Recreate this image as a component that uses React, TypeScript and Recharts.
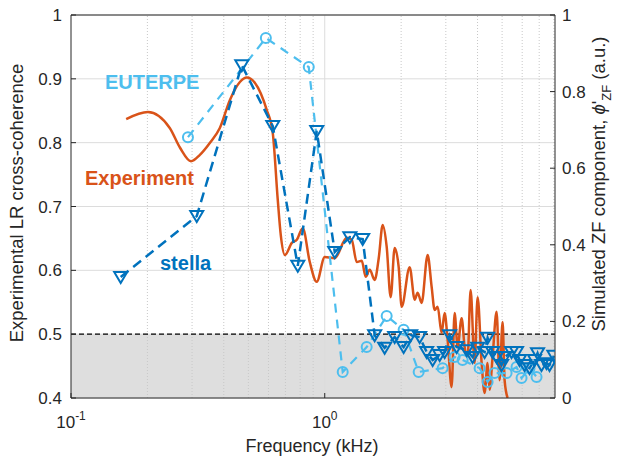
import {
  ComposedChart,
  Line,
  XAxis,
  YAxis,
  CartesianGrid,
  ReferenceLine,
  ReferenceArea,
} from "recharts";

// Experiment: LR cross-coherence (left axis) vs frequency (kHz)
const expFreq = [
  0.165, 0.201, 0.245, 0.269, 0.297, 0.322, 0.353, 0.386, 0.423, 0.463,
  0.493, 0.53, 0.591, 0.624, 0.653, 0.671, 0.696, 0.742, 0.776, 0.819,
  0.873, 0.93, 1.0, 1.095, 1.221, 1.277, 1.337, 1.399, 1.45, 1.504,
  1.573, 1.632, 1.692, 1.754, 1.819, 1.886, 1.956, 2.01, 2.161, 2.262,
  2.323, 2.409, 2.544, 2.638, 2.711, 2.786, 2.888, 2.968, 3.05, 3.162,
  3.25, 3.339, 3.463, 3.558, 3.656, 3.757, 3.896, 4.004, 4.152, 4.266,
  4.383, 4.463, 4.586, 4.756, 4.887, 5.022, 5.114, 5.255,
];
const expCoh = [
  0.837, 0.848, 0.823, 0.792, 0.771, 0.781, 0.8, 0.823, 0.867, 0.895,
  0.902, 0.894, 0.851, 0.815, 0.71, 0.655, 0.624, 0.643, 0.648, 0.666,
  0.613, 0.582, 0.621, 0.619, 0.651, 0.648, 0.613, 0.615, 0.59, 0.601,
  0.585, 0.619, 0.671, 0.637, 0.558, 0.635, 0.605, 0.543, 0.605, 0.554,
  0.565, 0.549, 0.624, 0.574, 0.538, 0.543, 0.502, 0.533, 0.491, 0.417,
  0.533, 0.48, 0.525, 0.48, 0.464, 0.569, 0.455, 0.558, 0.455, 0.408,
  0.455, 0.413, 0.464, 0.535, 0.428, 0.519, 0.428, 0.4,
];

// stella: simulated ZF component (right axis)
const stellaFreq = [
  0.157, 0.313, 0.471, 0.624, 0.783, 0.93, 1.095, 1.256, 1.411, 1.573,
  1.722, 1.886, 2.046, 2.181, 2.366, 2.521, 2.662, 2.837, 2.968, 3.105,
  3.309, 3.623, 3.826, 4.004, 4.266, 4.383, 4.586, 4.756, 4.977, 5.114,
  5.447, 5.699, 5.856, 6.128, 6.413, 6.711, 6.896, 7.148, 7.482, 7.687, 8.0,
];
const stellaZF = [
  0.316, 0.475, 0.869, 0.71, 0.345, 0.697, 0.381, 0.42, 0.415, 0.164,
  0.131, 0.159, 0.133, 0.164, 0.159, 0.12, 0.099, 0.112, 0.12, 0.164,
  0.133, 0.125, 0.107, 0.131, 0.12, 0.157, 0.12, 0.107, 0.086, 0.107,
  0.12, 0.12, 0.099, 0.086, 0.078, 0.099, 0.117, 0.086, 0.091, 0.086, 0.11,
];

// EUTERPE: simulated ZF component (right axis)
const euterpeFreq = [
  0.289, 0.586, 0.865, 1.177, 1.463, 1.754, 2.046, 2.345, 2.914, 3.25,
  3.494, 4.076, 4.383, 4.669, 5.208, 5.699, 5.965, 6.413, 6.834,
];
const euterpeZF = [
  0.681, 0.94, 0.864, 0.068, 0.133, 0.214, 0.178, 0.068, 0.078, 0.107,
  0.099, 0.078, 0.042, 0.065, 0.065, 0.081, 0.052, 0.078, 0.055,
];

const xTicks = [0.1, 1];
const xMinorGrid = [0.2, 0.3, 0.4, 0.5, 0.6, 0.7, 0.8, 0.9, 2, 3, 4, 5, 6, 7, 8];
const xDomain = [0.1, 8.08];
const leftTicks = [0.4, 0.5, 0.6, 0.7, 0.8, 0.9, 1];
const rightTicks = [0, 0.2, 0.4, 0.6, 0.8, 1];
const threshold = 0.5;

const ORANGE = "#D95319";
const DARK_BLUE = "#0072BD";
const LIGHT_BLUE = "#4DBEEE";
const TEXT = "#262626";
const FONT = "'Liberation Sans', Arial, Helvetica, sans-serif";

const PLOT_LEFT = 71;
const PLOT_RIGHT = 555;
const PLOT_BOTTOM = 398;

const expData = expFreq.map((f, i) => ({ f, v: expCoh[i] }));
const stellaData = stellaFreq.map((f, i) => ({ f, v: stellaZF[i] }));
const euterpeData = euterpeFreq.map((f, i) => ({ f, v: euterpeZF[i] }));

const XTick = ({ x, payload }: any) => {
  const exp = Math.round(Math.log10(payload.value));
  return (
    <g>
      <line x1={x} y1={PLOT_BOTTOM} x2={x} y2={PLOT_BOTTOM - 5} stroke={TEXT} />
      <text x={x} y={428} textAnchor="middle" fontSize={17} fill={TEXT} fontFamily={FONT}>
        10
        <tspan dy={-8} fontSize={12}>
          {exp}
        </tspan>
      </text>
    </g>
  );
};

const LeftTick = ({ y, payload }: any) => (
  <g>
    <line x1={PLOT_LEFT} y1={y} x2={PLOT_LEFT + 5} y2={y} stroke={TEXT} />
    <text x={PLOT_LEFT - 9} y={y + 6} textAnchor="end" fontSize={17} fill={TEXT} fontFamily={FONT}>
      {payload.value}
    </text>
  </g>
);

const RightTick = ({ y, payload }: any) => (
  <g>
    <line x1={PLOT_RIGHT} y1={y} x2={PLOT_RIGHT - 5} y2={y} stroke={TEXT} />
    <text x={PLOT_RIGHT + 7} y={y + 6} textAnchor="start" fontSize={17} fill={TEXT} fontFamily={FONT}>
      {payload.value}
    </text>
  </g>
);

const TriangleDot = (props: any) => {
  const { cx, cy, index } = props;
  if (cx == null || cy == null) return null;
  return (
    <path
      key={`tri-${index}`}
      d={`M${cx - 6.5},${cy - 5} L${cx + 6.5},${cy - 5} L${cx},${cy + 6} Z`}
      fill="none"
      stroke={DARK_BLUE}
      strokeWidth={2}
      strokeLinejoin="miter"
    />
  );
};

const CircleDot = (props: any) => {
  const { cx, cy, index } = props;
  if (cx == null || cy == null) return null;
  return (
    <circle
      key={`circ-${index}`}
      cx={cx}
      cy={cy}
      r={5}
      fill="none"
      stroke={LIGHT_BLUE}
      strokeWidth={2}
    />
  );
};

export default function App() {
  return (
    <div style={{ position: "absolute", left: 0, top: 0, width: 630, height: 457, background: "#fff" }}>
      <ComposedChart
        width={630}
        height={457}
        margin={{ top: 15, right: 25, bottom: 14, left: 26 }}
      >
        <ReferenceArea
          yAxisId="left"
          y1={0.4}
          y2={threshold}
          fill="#dedede"
          fillOpacity={1}
          stroke="none"
        />
        <CartesianGrid
          yAxisId="left"
          vertical={false}
          stroke="#dcdcdc"
          horizontalValues={leftTicks}
        />
        {xMinorGrid.map((v) => (
          <ReferenceLine
            key={`minor-${v}`}
            x={v}
            yAxisId="left"
            stroke="#c8c8c8"
            strokeDasharray="1 2"
          />
        ))}
        <ReferenceLine x={1} yAxisId="left" stroke="#dcdcdc" />
        <ReferenceLine y={1} yAxisId="left" stroke={TEXT} />
        <ReferenceLine
          y={threshold}
          yAxisId="left"
          stroke="#000"
          strokeWidth={1.3}
          strokeDasharray="5 3"
        />
        <XAxis
          dataKey="f"
          type="number"
          scale="log"
          domain={xDomain}
          ticks={xTicks}
          allowDataOverflow
          height={45}
          tickSize={0}
          tickMargin={0}
          tick={<XTick />}
          stroke={TEXT}
        />
        <YAxis
          yAxisId="left"
          type="number"
          domain={[0.4, 1]}
          ticks={leftTicks}
          width={45}
          tickSize={0}
          tickMargin={0}
          tick={<LeftTick />}
          stroke={TEXT}
          allowDataOverflow
        />
        <YAxis
          yAxisId="right"
          orientation="right"
          type="number"
          domain={[0, 1]}
          ticks={rightTicks}
          width={50}
          tickSize={0}
          tickMargin={0}
          tick={<RightTick />}
          stroke={TEXT}
          allowDataOverflow
        />
        <Line
          data={expData}
          dataKey="v"
          yAxisId="left"
          type="monotone"
          stroke={ORANGE}
          strokeWidth={2.5}
          dot={false}
          isAnimationActive={false}
        />
        <Line
          data={euterpeData}
          dataKey="v"
          yAxisId="right"
          type="linear"
          stroke={LIGHT_BLUE}
          strokeWidth={2.2}
          strokeDasharray="9 7"
          dot={<CircleDot />}
          isAnimationActive={false}
        />
        <Line
          data={stellaData}
          dataKey="v"
          yAxisId="right"
          type="linear"
          stroke={DARK_BLUE}
          strokeWidth={2.5}
          strokeDasharray="10 6"
          dot={<TriangleDot />}
          isAnimationActive={false}
        />
      </ComposedChart>
      <svg
        width={630}
        height={457}
        style={{ position: "absolute", left: 0, top: 0, pointerEvents: "none" }}
        fontFamily={FONT}
      >
        <text x={105} y={89} fontSize={20} fontWeight="bold" fill={LIGHT_BLUE}>
          EUTERPE
        </text>
        <text x={85} y={185} fontSize={20} fontWeight="bold" fill={ORANGE}>
          Experiment
        </text>
        <text x={160} y={270} fontSize={20} fontWeight="bold" fill={DARK_BLUE}>
          stella
        </text>
        <text x={312} y={452} fontSize={18} textAnchor="middle" fill={TEXT}>
          Frequency (kHz)
        </text>
        <text
          transform="translate(23,203) rotate(-90)"
          fontSize={18.5}
          textAnchor="middle"
          fill={TEXT}
        >
          Experimental LR cross-coherence
        </text>
        <text
          transform="translate(605,184) rotate(-90)"
          fontSize={18.5}
          textAnchor="middle"
          fill={TEXT}
        >
          Simulated ZF component,{" "}
          <tspan fontStyle="italic">ϕ</tspan>'
          <tspan dy={6} fontSize={13}>
            ZF
          </tspan>
          <tspan dy={-6}> (a.u.)</tspan>
        </text>
      </svg>
    </div>
  );
}
